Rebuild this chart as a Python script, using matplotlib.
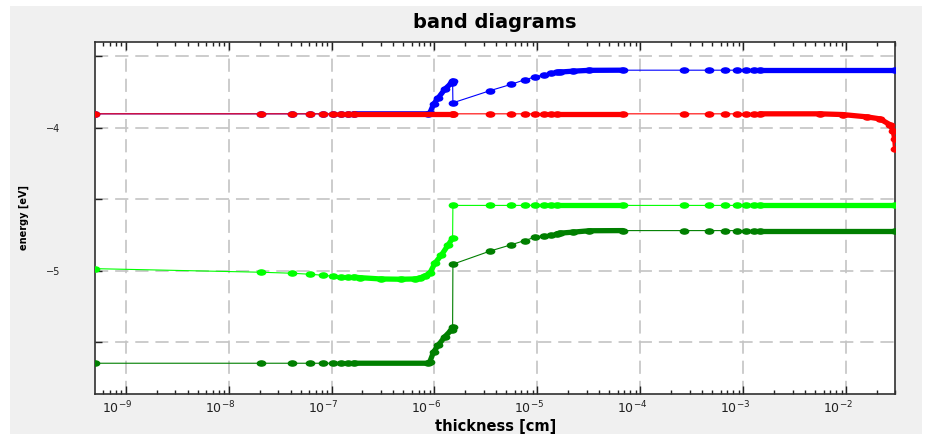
import numpy as np
import matplotlib
matplotlib.use('Agg')
from matplotlib import pyplot as plt
from matplotlib.patches import Rectangle
from matplotlib.path import Path
from matplotlib.transforms import Affine2D, ScaledTranslation
from matplotlib.ticker import LogLocator, FixedLocator, NullFormatter, LogFormatterSciNotation

# mesh nodes common to all curves [cm]
x_front = [5.05e-10, 2.05e-8, 4.1e-8, 6.15e-8, 8.2e-8, 1.025e-7, 1.23e-7, 1.435e-7]
x_mid = [3.5e-6, 5.5e-6, 7.5e-6, 9.5e-6, 1.15e-5, 1.35e-5]
x_back = [2.65e-4, 4.65e-4, 6.65e-4, 8.65e-4, 1.065e-3, 1.265e-3]

# conduction band (blue)
ec_x = x_front + [1.64e-7, 8.6e-7, 9.0e-7, 9.8e-7, 1.09e-6, 1.26e-6, 1.47e-6, 1.50e-6, 1.51e-6] \
    + x_mid + [1.55e-5, 1.65e-5, 2.2e-5, 3.2e-5, 6.75e-5] + x_back + [1.465e-3, 3.0e-2]
ec_e = [-3.902] * 8 + [-3.902, -3.902, -3.897, -3.835, -3.79, -3.73, -3.685, -3.673, -3.825] \
    + [-3.739, -3.697, -3.664, -3.644, -3.630, -3.620] \
    + [-3.613, -3.610, -3.604, -3.598, -3.597] + [-3.597] * 6 + [-3.597, -3.597]

# electron quasi-fermi level (red)
efn_x = x_front + [1.64e-7, 1.50e-6, 1.51e-6] + x_mid + [1.55e-5, 6.75e-5] + x_back \
    + [1.465e-3, 5.5e-3, 9.2e-3, 1.57e-2, 2.11e-2, 2.64e-2, 2.85e-2, 2.95e-2, 3.0e-2]
efn_e = [-3.902] * 8 + [-3.902] * 3 + [-3.902] * 6 + [-3.902] * 2 + [-3.902] * 6 \
    + [-3.902, -3.902, -3.907, -3.923, -3.937, -3.977, -4.02, -4.08, -4.145]

# hole quasi-fermi level (light green)
efp_x = x_front + [1.64e-7, 1.9e-7, 3.0e-7, 4.7e-7, 6.5e-7, 7.2e-7, 8.1e-7, 9.0e-7,
                   1.01e-6, 1.17e-6, 1.36e-6, 1.50e-6, 1.51e-6] \
    + x_mid + [1.55e-5, 6.75e-5] + x_back + [1.465e-3, 3.0e-2]
efp_e = [-4.984, -5.009, -5.016, -5.023, -5.030, -5.036, -5.039, -5.041] \
    + [-5.043, -5.047, -5.056, -5.058, -5.056, -5.049, -5.035, -5.016,
       -4.946, -4.888, -4.818, -4.771, -4.542] \
    + [-4.542] * 6 + [-4.542] * 2 + [-4.542] * 6 + [-4.542] * 2

# valence band (dark green)
ev_x = x_front + [1.64e-7, 8.6e-7, 9.0e-7, 9.8e-7, 1.09e-6, 1.26e-6, 1.47e-6, 1.50e-6, 1.51e-6] \
    + x_mid + [1.55e-5, 1.65e-5, 2.2e-5, 3.2e-5, 6.75e-5] + x_back + [1.465e-3, 3.0e-2]
ev_e = [-5.645] * 8 + [-5.645, -5.645, -5.636, -5.566, -5.519, -5.460, -5.410, -5.393, -4.953] \
    + [-4.860, -4.818, -4.788, -4.764, -4.753, -4.746] \
    + [-4.740, -4.736, -4.729, -4.719, -4.718] + [-4.718] * 6 + [-4.718, -4.718]

# stretches where the mesh is so fine that the dots merge into a thick line
dense_spans = [(1.6e-7, 1.505e-6), (1.54e-5, 6.8e-5), (1.4e-3, 3.01e-2)]

decades = [1e-9, 1e-8, 1e-7, 1e-6, 1e-5, 1e-4, 1e-3, 1e-2]

curves = [
    (ec_x, ec_e, '#0000ff'),
    (efn_x, efn_e, '#ff0000'),
    (efp_x, efp_e, '#00ff00'),
    (ev_x, ev_e, '#007f00'),
]

plt.rcParams['lines.scale_dashes'] = False

fig = plt.figure(figsize=(9.28, 4.34), dpi=100, facecolor='white')
fig.patches.append(Rectangle((10 / 928, 0), 912 / 928, 428 / 434, transform=fig.transFigure,
                             facecolor='#f0f0f0', edgecolor='none', zorder=-10))
ax = fig.add_axes([95 / 928, 40 / 434, 800.5 / 928, 352 / 434])
ax.set_facecolor('white')

oval = Path.unit_circle().transformed(Affine2D().scale(1.0, 0.62))

for x, e, color in curves:
    x = np.array(x)
    e = np.array(e)
    ax.plot(x, e, '-', color=color, lw=0.8, marker=oval, ms=6, mec=color, mfc=color, zorder=3)
    for lo, hi in dense_spans:
        m = (x >= lo) & (x <= hi)
        ax.plot(x[m], e[m], '-', color=color, lw=3.8, solid_capstyle='round', zorder=3)

ax.set_xscale('log')
ax.set_xlim(5.05e-10, 3.0e-2)
ax.set_ylim(-5.86, -3.40)

ax.xaxis.set_major_locator(FixedLocator(decades))
ax.xaxis.set_major_formatter(LogFormatterSciNotation())
ax.xaxis.set_minor_locator(LogLocator(base=10, subs=np.arange(2, 10), numticks=100))
ax.xaxis.set_minor_formatter(NullFormatter())
ax.yaxis.set_major_locator(FixedLocator([-5, -4]))
ax.yaxis.set_minor_locator(FixedLocator([-5.5, -4.5, -3.5]))

ax.tick_params(axis='x', which='both', direction='in', top=True, bottom=True,
               labelsize=9, labelcolor='#202020', color='#202020', pad=4)
ax.tick_params(axis='x', which='major', length=6, width=1)
ax.tick_params(axis='x', which='minor', length=3, width=1)
ax.tick_params(axis='y', which='both', direction='in', left=True, right=False,
               length=5, width=1, labelsize=7, labelcolor='#202020', color='#202020', pad=25)

# shift the decade labels a little to the left
for lab in ax.get_xticklabels():
    lab.set_transform(lab.get_transform() + ScaledTranslation(-6 / 72, 0, fig.dpi_scale_trans))

grid_fmt = dict(color='#c4c4c4', lw=1.2, linestyle=(0, (9.5, 5)))
ax.grid(which='major', axis='x', **grid_fmt)
ax.grid(which='both', axis='y', **grid_fmt)
ax.set_axisbelow(True)

for side in ['left', 'bottom', 'top', 'right']:
    ax.spines[side].set_color('#303030')
    ax.spines[side].set_linewidth(1.2)

ax.set_title('band diagrams', fontsize=14, fontweight='bold', pad=10)
ax.set_xlabel('thickness [cm]', fontsize=10.5, fontweight='bold')
ax.xaxis.set_label_coords(0.5, -0.072)
ax.xaxis.label.set_va('top')
ax.set_ylabel('energy [eV]', fontsize=7, fontweight='bold')
ax.yaxis.set_label_coords(-0.082, 0.5)

fig.savefig('out.png', dpi=100, facecolor=fig.get_facecolor())
